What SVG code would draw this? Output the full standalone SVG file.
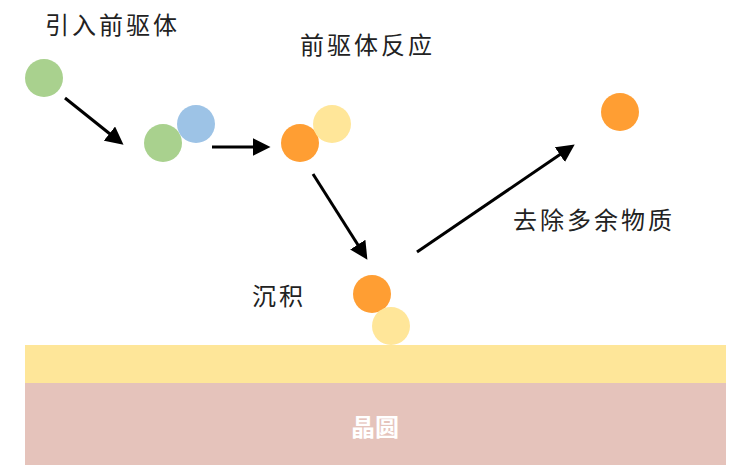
<svg xmlns="http://www.w3.org/2000/svg" width="750" height="474" viewBox="0 0 750 474">
<defs>
<style>
.lbl{font-family:"Noto Sans CJK SC","Noto Sans",sans-serif;font-size:24px;letter-spacing:3px;fill:#222}
.conn{stroke:#000;stroke-width:3;fill:none;marker-end:url(#ah)}
.g{fill:#a9d18e}.b{fill:#9dc3e6}.o{fill:#ff9e33}.y{fill:#ffe699}
</style>
<marker id="ah" markerWidth="6" markerHeight="6" refX="4.5" refY="3" orient="auto" markerUnits="strokeWidth">
<path d="M0,0 L6,3 L0,6 Z" fill="#000"/>
</marker>
</defs>
<rect width="750" height="474" fill="#fff"/>
<g id="wafer">
<rect x="25" y="345" width="701" height="38" fill="#fee699"/>
<rect x="25" y="383" width="701" height="82" fill="#e5c3bb"/>
<text x="375" y="436" text-anchor="middle" font-family="Noto Sans CJK SC,sans-serif" font-size="24" font-weight="bold" fill="#fff">晶圆</text>
</g>
<g id="connectors">
<line class="conn" x1="65" y1="98" x2="120" y2="142"/>
<line class="conn" x1="212" y1="147" x2="266" y2="147"/>
<line class="conn" x1="313" y1="174" x2="365" y2="256"/>
<line class="conn" x1="417" y1="252" x2="571" y2="147"/>
</g>
<g id="step1">
<text class="lbl" x="45" y="34">引入前驱体</text>
<circle class="g" cx="44" cy="78" r="19"/>
</g>
<g id="step2">
<circle class="g" cx="163" cy="143" r="19"/>
<circle class="b" cx="196" cy="124" r="19"/>
</g>
<g id="step3">
<text class="lbl" x="300" y="54">前驱体反应</text>
<circle class="o" cx="300" cy="143" r="19"/>
<circle class="y" cx="332" cy="124" r="19"/>
</g>
<g id="step4">
<text class="lbl" x="252" y="305">沉积</text>
<circle class="o" cx="372" cy="294" r="19"/>
<circle class="y" cx="391" cy="326" r="19"/>
</g>
<g id="step5">
<text class="lbl" x="513" y="229">去除多余物质</text>
<circle class="o" cx="620" cy="112" r="19"/>
</g>
</svg>
